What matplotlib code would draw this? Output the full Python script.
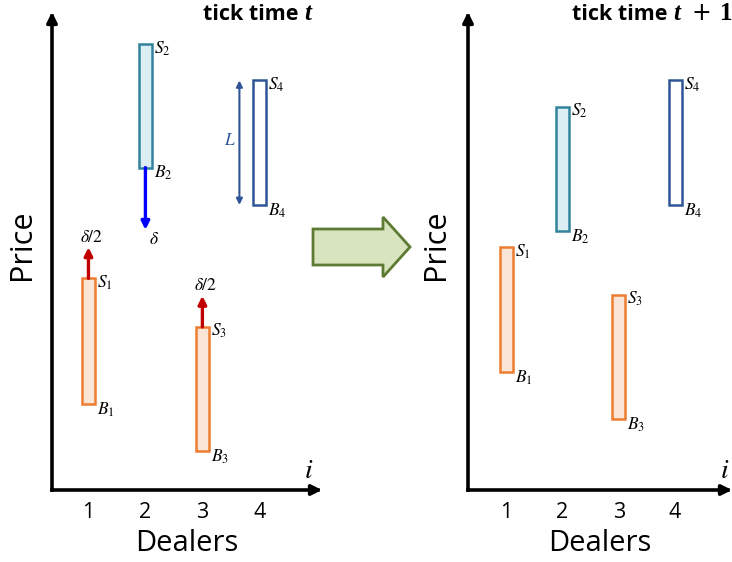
import matplotlib
matplotlib.use("Agg")
import matplotlib.pyplot as plt
from matplotlib.patches import FancyArrow

plt.rcParams['font.family'] = ['Open Sans', 'DejaVu Sans']
plt.rcParams['mathtext.fontset'] = 'stix'

# ---- data ----
dealers = [1, 2, 3, 4]
tick_labels = ['1', '2', '3', '4']
ask_t = [17.0, 35.8, 13.1, 32.9]
bid_t = [6.9, 25.9, 3.1, 22.9]
ask_t1 = [19.5, 30.8, 15.7, 32.9]
bid_t1 = [9.5, 20.8, 5.7, 22.9]
delta = 5.0
title_parts = [
    [('tick time ', 'sans', 0), ('t', 'serifit', 0)],
    [('tick time ', 'sans', 0), ('t', 'serifit', 0),
     ('+', 'plus', 11), ('1', 'serif', 9)],
]

fills = ['#FBE5D6', '#DAEEF3', '#FBE5D6', '#FFFFFF']
edges = ['#ED7D31', '#31849B', '#ED7D31', '#2F5597']
RED = '#C00000'
BLUE = '#0000FF'
NAVY = '#2F5597'
BW = 0.23

fig = plt.figure(figsize=(7.32, 5.62), dpi=100)
ax1 = fig.add_axes([52/732, 72/562, 270/732, 478/562])
ax2 = fig.add_axes([468/732, 72/562, 264/732, 478/562])
ax1.set_xlim(0.36, 5.10)
ax2.set_xlim(0.325, 5.01)

STYLES = {
    'sans': dict(family=['Open Sans'], fontweight='bold', fontsize=15.5),
    'serifit': dict(family=['Liberation Serif'], fontweight='bold',
                    fontstyle='italic', fontsize=18),
    'serif': dict(family=['Liberation Serif'], fontweight='bold',
                  fontsize=18),
    'plus': dict(family=['DejaVu Sans'], fontweight='normal', fontsize=17),
}


def title(ax, parts, x0):
    renderer = fig.canvas.get_renderer()
    x = x0
    for txt, sty, gap in parts:
        if gap:
            xd = ax.transAxes.transform((x, 0))[0] + gap
            x = ax.transAxes.inverted().transform((xd, 0))[0]
        t = ax.text(x, 0.983, txt, transform=ax.transAxes, ha='left',
                    va='baseline', **STYLES[sty])
        ext = t.get_window_extent(renderer)
        x = ax.transAxes.inverted().transform((ext.x1, 0))[0]


def setup(ax, parts, x0, lab_x):
    ax.set_ylim(0, 38.4)
    for s in ax.spines.values():
        s.set_visible(False)
    ax.set_xticks(dealers)
    ax.set_xticklabels(tick_labels, fontsize=15.5)
    ax.tick_params(axis='x', length=0, pad=9)
    ax.set_yticks([])
    ax.set_xlabel('Dealers', fontsize=21, labelpad=4)
    ax.set_ylabel('Price', fontsize=22)
    ax.yaxis.set_label_coords(lab_x, 0.513)
    ap = dict(arrowstyle='-|>', lw=2.6, color='black', mutation_scale=15,
              shrinkA=0, shrinkB=0, capstyle='projecting')
    ax.annotate('', xy=(0, 1), xytext=(0, 0), xycoords='axes fraction',
                arrowprops=ap, annotation_clip=False)
    ax.annotate('', xy=(1, 0), xytext=(0, 0), xycoords='axes fraction',
                arrowprops=ap, annotation_clip=False)
    title(ax, parts, x0)


def bars(ax, ask, bid):
    heights = [a - b for a, b in zip(ask, bid)]
    ax.bar(dealers, heights, bottom=bid, width=BW, color=fills,
           edgecolor=edges, linewidth=1.8, zorder=3)
    for i, (x, a, b) in enumerate(zip(dealers, ask, bid)):
        ax.annotate(rf'$S_{i+1}$', xy=(x + BW/2, a), xytext=(1.5, -3),
                    textcoords='offset points', ha='left', va='center',
                    fontsize=12.5)
        ax.annotate(rf'$B_{i+1}$', xy=(x + BW/2, b), xytext=(1.5, -4),
                    textcoords='offset points', ha='left', va='center',
                    fontsize=12.5)


setup(ax1, title_parts[0], 0.559, -0.057)
setup(ax2, title_parts[1], 0.394, -0.064)
bars(ax1, ask_t, bid_t)
bars(ax2, ask_t1, bid_t1)

for ax, xf in ((ax1, 0.95), (ax2, 0.973)):
    ax.text(xf, 0.04, r'$i$', transform=ax.transAxes, ha='center',
            va='center', fontsize=20)

# move arrows at time t
arr = dict(arrowstyle='-|>', lw=2.4, mutation_scale=12, shrinkA=0, shrinkB=0)
for k in (0, 2):
    x, a = dealers[k], ask_t[k]
    ax1.annotate('', xy=(x, a + delta/2), xytext=(x, a),
                 arrowprops=dict(arr, color=RED))
    ax1.annotate(r'$\delta/2$', xy=(x, a + delta/2), xytext=(2.5, 7),
                 textcoords='offset points', ha='center', va='center',
                 fontsize=12.5)
x, b = dealers[1], bid_t[1]
ax1.annotate('', xy=(x, b - delta), xytext=(x, b),
             arrowprops=dict(arr, color=BLUE))
ax1.annotate(r'$\delta$', xy=(x, b - delta), xytext=(6.5, -7),
             textcoords='offset points', ha='center', va='center',
             fontsize=12.5)

# spread length L
xL = dealers[3] - 0.35
ax1.annotate('', xy=(xL, ask_t[3]), xytext=(xL, bid_t[3]),
             arrowprops=dict(arrowstyle='<|-|>', lw=1.5, color=NAVY,
                             mutation_scale=9, shrinkA=0, shrinkB=0))
ax1.annotate(r'$L$', xy=(xL, (ask_t[3] + bid_t[3]) / 2), xytext=(-7, 1),
             textcoords='offset points', ha='center', va='center',
             fontsize=12.5, color=NAVY)

# big transition arrow
fig.add_artist(FancyArrow(3.13, (562 - 247) / 100, 0.97, 0, width=0.36,
                          head_width=0.60, head_length=0.27,
                          length_includes_head=True,
                          transform=fig.dpi_scale_trans,
                          facecolor='#D7E4BD', edgecolor='#5E7B34', lw=2))

fig.savefig('out.png', dpi=100)
